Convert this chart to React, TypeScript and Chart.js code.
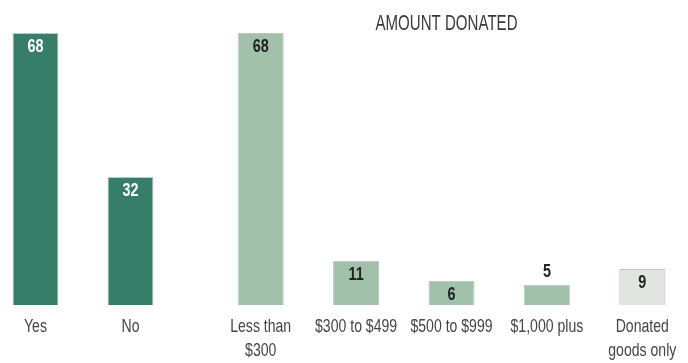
import { useEffect, useRef } from 'react';
import { Chart, registerables } from 'chart.js';

Chart.register(...registerables);

// ---- data ----
const responseLabels: (string | string[])[] = ['Yes', 'No'];
const responseValues: number[] = [68, 32];

const amountLabels: (string | string[])[] = [
  ['Less than', '$300'],
  '$300 to $499',
  '$500 to $999',
  '$1,000 plus',
  ['Donated', 'goods only'],
];
const amountValues: number[] = [68, 11, 6, 5, 9];
const amountTitle = 'AMOUNT DONATED';

const yMax = 68;

// ---- styles ----
const FONT = "'Liberation Sans', Arial, sans-serif";
const darkGreen = '#367e6a';
const lightGreen = '#a2c1ab';
const paleGrey = '#e0e5df';
const barBorder = '#c4c4c4';
const tickColor = '#454545';

// value labels on / above bars
const valueLabelPlugin = {
  id: 'valueLabels',
  afterDatasetsDraw(chart: any) {
    const ctx = chart.ctx;
    const ds = chart.data.datasets[0];
    const meta = chart.getDatasetMeta(0);
    const colors: string[] = ds.valueColors || [];
    ctx.save();
    ctx.font = `bold 18px ${FONT}`;
    ctx.textAlign = 'center';
    ctx.textBaseline = 'alphabetic';
    meta.data.forEach((bar: any, i: number) => {
      const v = ds.data[i];
      const h = bar.base - bar.y;
      let y: number;
      if (h >= 22) {
        ctx.fillStyle = colors[i] || '#222';
        y = bar.y + 19;
      } else {
        ctx.fillStyle = '#222';
        y = bar.y - 8;
      }
      ctx.save();
      ctx.translate(bar.x, y);
      ctx.scale(0.8, 1);
      ctx.fillText(String(v), 0, 0);
      ctx.restore();
    });
    ctx.restore();
  },
};

// category labels drawn under each bar (condensed look)
const categoryLabelPlugin = {
  id: 'categoryLabels',
  afterDraw(chart: any) {
    const ctx = chart.ctx;
    const xScale = chart.scales.x;
    const labels = chart.data.labels as (string | string[])[];
    ctx.save();
    ctx.font = `19px ${FONT}`;
    ctx.fillStyle = tickColor;
    ctx.textAlign = 'center';
    ctx.textBaseline = 'alphabetic';
    labels.forEach((lab, i) => {
      const x = xScale.getPixelForValue(i);
      const lines = Array.isArray(lab) ? lab : [lab];
      lines.forEach((line, j) => {
        ctx.save();
        ctx.translate(x, chart.chartArea.bottom + 27 + j * 23.5);
        ctx.scale(0.74, 1);
        ctx.fillText(line, 0, 0);
        ctx.restore();
      });
    });
    ctx.restore();
  },
};

const titlePlugin = {
  id: 'amountTitle',
  afterDraw(chart: any) {
    const text = chart.options.plugins.amountTitle?.text;
    if (!text) return;
    const ctx = chart.ctx;
    const area = chart.chartArea;
    ctx.save();
    ctx.font = `22px ${FONT}`;
    ctx.fillStyle = '#3a3a3a';
    ctx.textAlign = 'center';
    ctx.textBaseline = 'alphabetic';
    const cx = (area.left + area.right) / 2 - 5;
    ctx.translate(cx, 29.5);
    ctx.scale(0.685, 1);
    ctx.fillText(text, 0, 0);
    ctx.restore();
  },
};

function makeConfig(
  labels: (string | string[])[],
  values: number[],
  fills: string[],
  valueColors: string[],
  title?: string
): any {
  return {
    type: 'bar',
    data: {
      labels,
      datasets: [
        {
          data: values,
          backgroundColor: fills,
          borderColor: barBorder,
          borderWidth: 1,
          barPercentage: 0.483,
          categoryPercentage: 1,
          valueColors,
        },
      ],
    },
    options: {
      animation: false,
      responsive: false,
      maintainAspectRatio: false,
      layout: { padding: { top: 33, left: 0, right: 0, bottom: 58 } },
      plugins: {
        legend: { display: false },
        tooltip: { enabled: false },
        title: { display: false },
        amountTitle: { text: title },
      },
      scales: {
        x: {
          display: false,
          grid: { display: false },
        },
        y: {
          display: false,
          min: 0,
          max: yMax,
        },
      },
    },
    plugins: [valueLabelPlugin, categoryLabelPlugin, titlePlugin],
  };
}

function BarCanvas(props: { left: number; width: number; config: () => any }) {
  const ref = useRef<HTMLCanvasElement | null>(null);
  useEffect(() => {
    if (!ref.current) return;
    const chart = new Chart(ref.current, props.config());
    return () => chart.destroy();
  }, []);
  return (
    <canvas
      ref={ref}
      width={props.width}
      height={363}
      style={{ position: 'absolute', left: props.left, top: 0, width: props.width, height: 363, display: 'block' }}
    />
  );
}

export default function App() {
  return (
    <div
      style={{
        position: 'fixed',
        left: 0,
        top: 0,
        width: 688,
        height: 363,
        overflow: 'hidden',
        background: '#ffffff',
      }}
    >
      <BarCanvas
        left={-12}
        width={190}
        config={() =>
          makeConfig(responseLabels, responseValues, [darkGreen, darkGreen], ['#ffffff', '#ffffff'])
        }
      />
      <BarCanvas
        left={213}
        width={477}
        config={() =>
          makeConfig(
            amountLabels,
            amountValues,
            [lightGreen, lightGreen, lightGreen, lightGreen, paleGrey],
            ['#222', '#222', '#222', '#222', '#222'],
            amountTitle
          )
        }
      />
    </div>
  );
}
